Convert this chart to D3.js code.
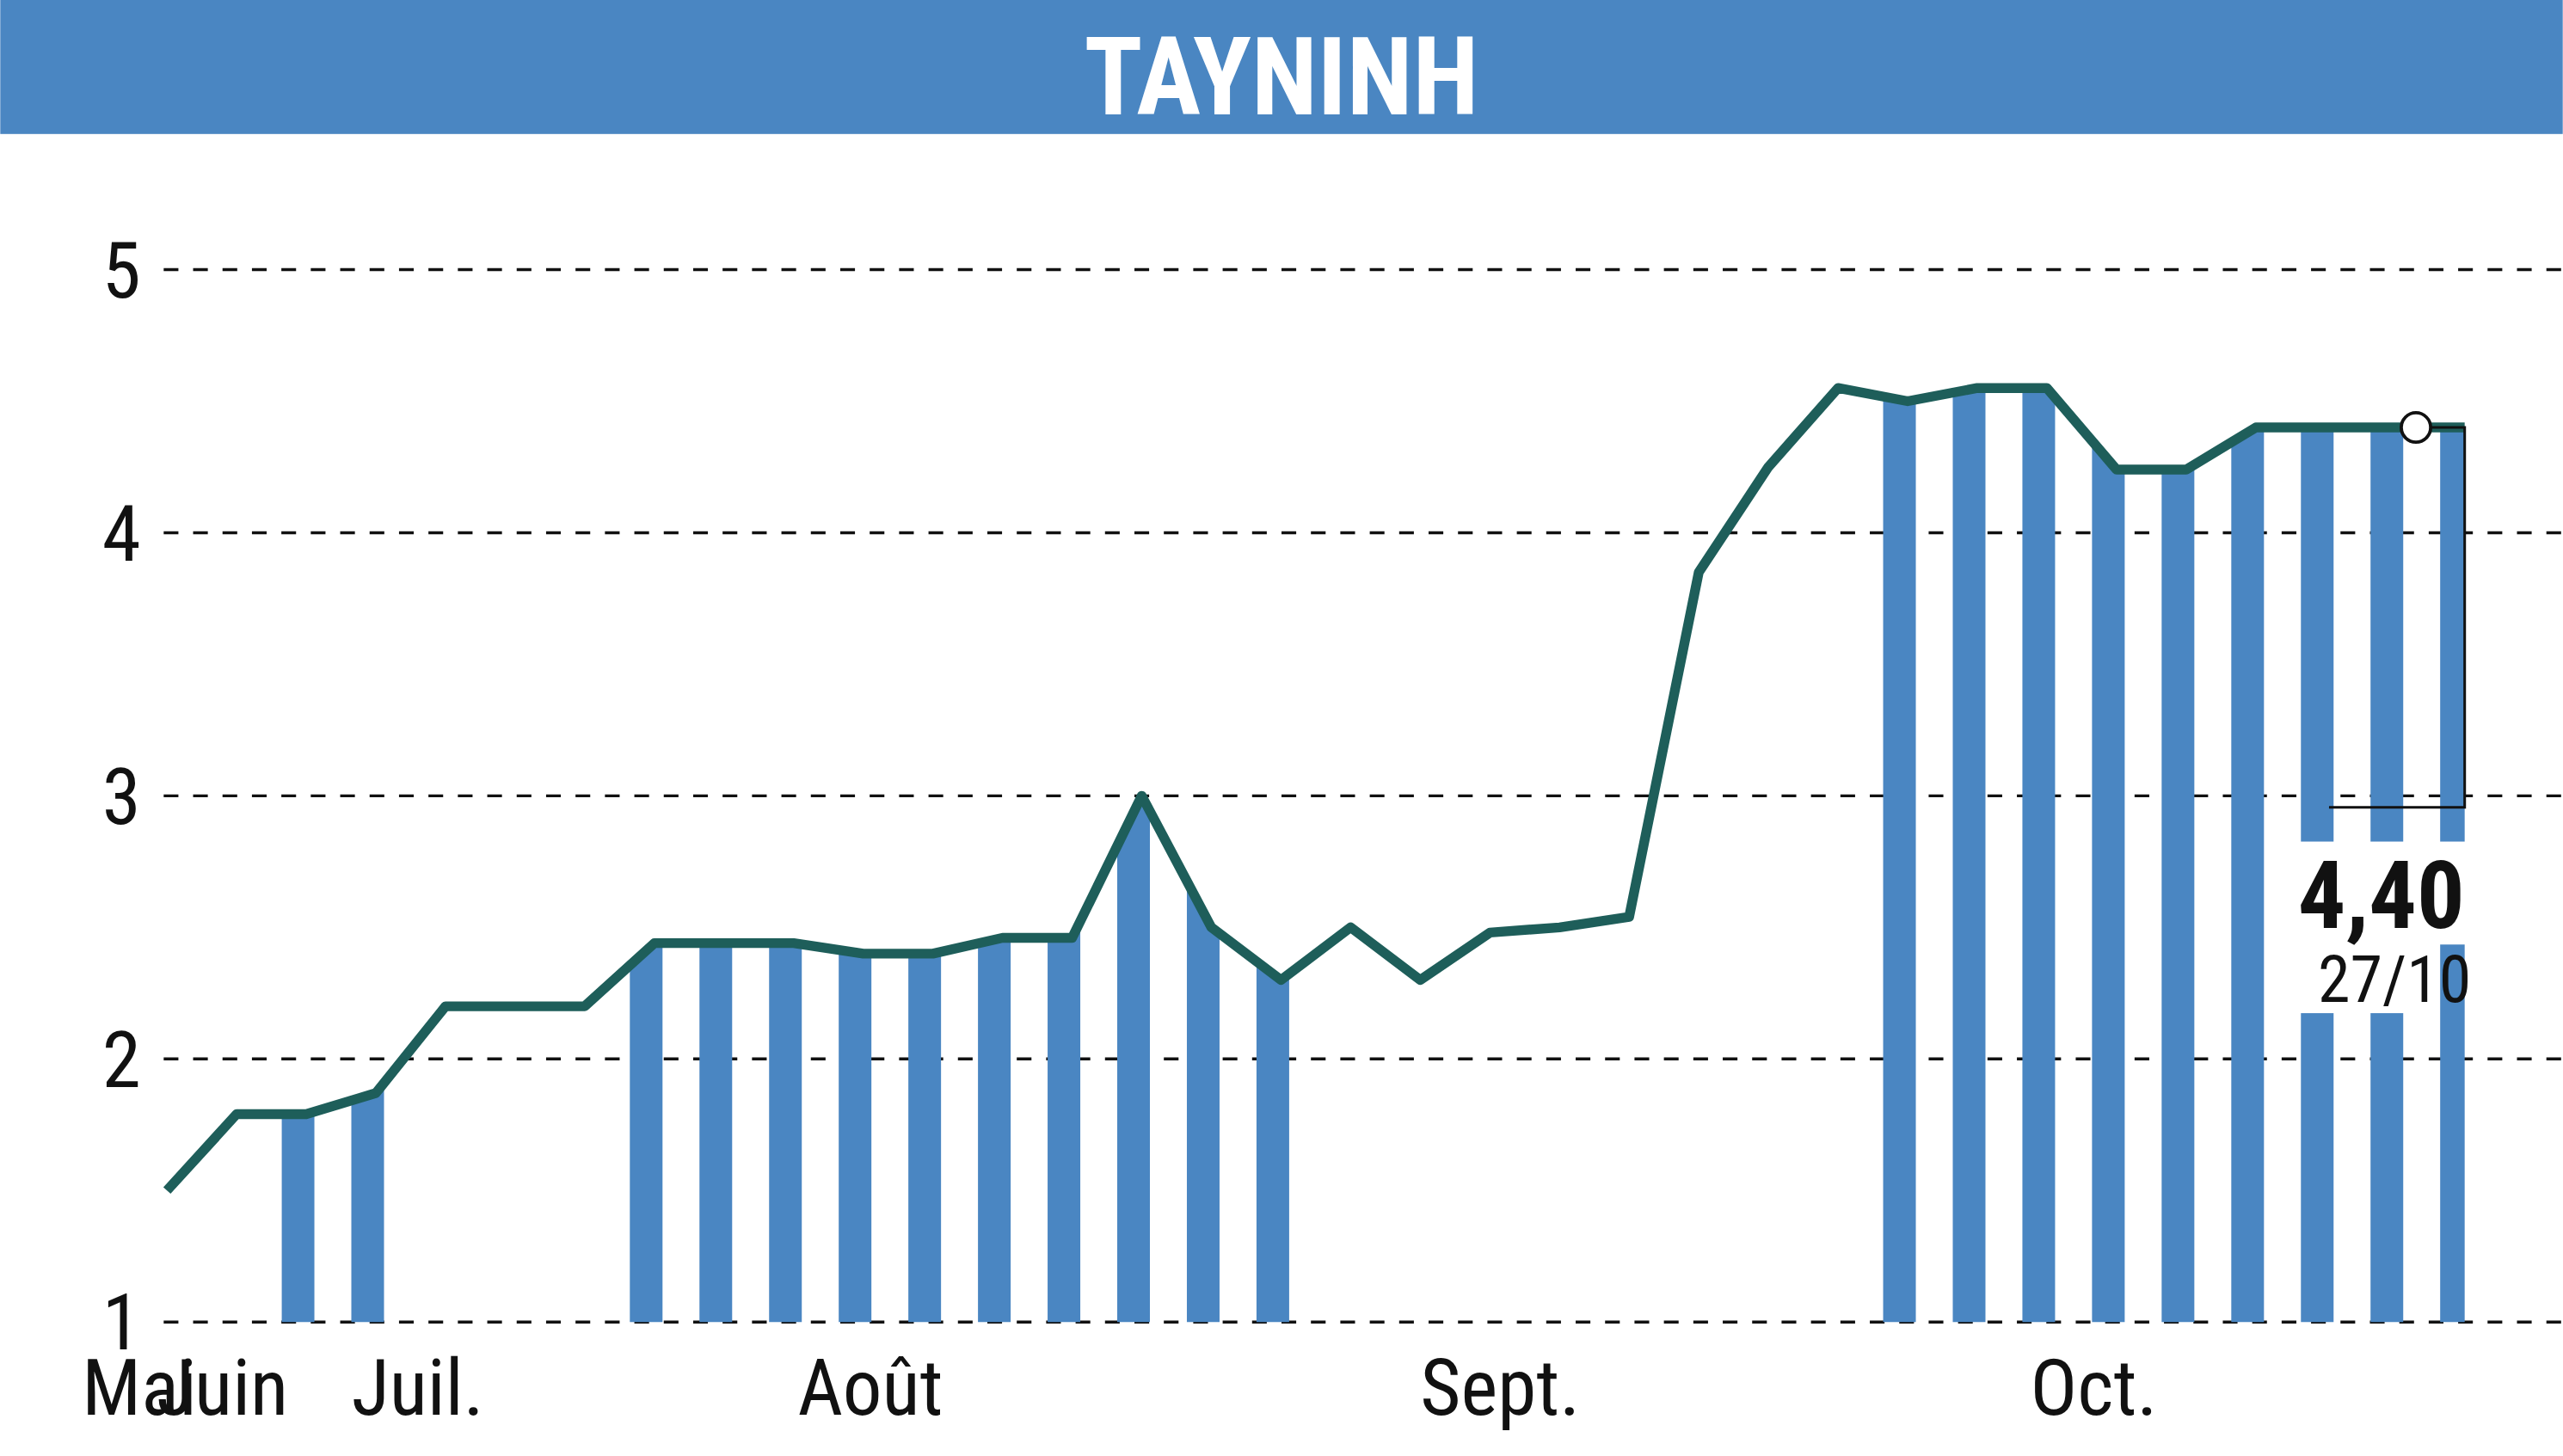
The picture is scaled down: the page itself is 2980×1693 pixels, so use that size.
<!DOCTYPE html>
<html><head><meta charset="utf-8">
<script src="https://cdn.jsdelivr.net/npm/d3@7"></script>
<style>body{margin:0;background:#fff}text{font-family:"Liberation Sans Narrow","Roboto Condensed","DejaVu Sans Condensed",sans-serif}</style>
</head><body><svg id="chart" width="2980" height="1693" viewBox="0 0 1568 891"></svg>
<script>
// closing prices, one per trading day
var prices = [1.5,1.79,1.79,1.87,2.2,2.2,2.2,2.44,2.44,2.44,2.4,2.4,2.46,2.46,3.0,2.5,2.3,2.5,2.3,2.48,2.5,2.54,3.85,4.25,4.55,4.5,4.55,4.55,4.24,4.24,4.4,4.4,4.4,4.4];
// days that get a stripe
var stripes = [2,3,7,8,9,10,11,12,13,14,15,16,25,26,27,28,29,30,31,32,33];
var yTicks = [1,2,3,4,5];
var months = [{t:"Mai",x:-1.22},{t:"Juin",x:-0.15},{t:"Juil.",x:2.65},{t:"Août",x:9.06},{t:"Sept.",x:18.0},{t:"Oct.",x:26.76}];
var lastLabel = "4,40", lastDate = "27/10";

var svg = d3.select("#chart");
var x = d3.scaleLinear().domain([0, prices.length-1]).range([102,1508]);
var y = d3.scaleLinear().domain([1,5]).range([809,165]);

// header
svg.append("rect").attr("width",1568).attr("height",82).attr("fill","#4a86c2");
svg.append("text").attr("x",784).attr("y",70).attr("text-anchor","middle")
  .attr("fill","#fff").attr("font-size",66).attr("font-weight","bold").text("TAYNINH");

// grid
svg.selectAll(".grid").data(yTicks).enter().append("line")
  .attr("x1",100).attr("x2",1568).attr("y1",y).attr("y2",y)
  .attr("stroke","#111").attr("stroke-width",1.8).attr("stroke-dasharray","9,9");
svg.selectAll(".yl").data(yTicks).enter().append("text")
  .attr("x",86).attr("y",function(d){return y(d)+17;}).attr("text-anchor","end")
  .attr("font-size",48).attr("fill","#111").text(function(d){return d;});

// striped area under line
var defs = svg.append("defs");
var cp = defs.append("clipPath").attr("id","stripes");
cp.selectAll("rect").data(stripes).enter().append("rect")
  .attr("x",function(i){return x(i)-15;}).attr("width",20).attr("y",0).attr("height",891);
var area = d3.area().x(function(d,i){return x(i);}).y0(y(1)).y1(function(d){return y(d);});
svg.append("path").datum(prices).attr("d",area).attr("fill","#4a86c2").attr("clip-path","url(#stripes)");

// label box cutting the stripes
svg.append("rect").attr("x",1395).attr("y",515).attr("width",95).attr("height",105).attr("fill","#fff");
svg.append("rect").attr("x",1490).attr("y",515).attr("width",30).attr("height",63).attr("fill","#fff");

// price line
var line = d3.line().x(function(d,i){return x(i);}).y(function(d){return y(d);});
svg.append("path").datum(prices).attr("d",line).attr("fill","none")
  .attr("stroke","#1e5e5a").attr("stroke-width",6).attr("stroke-linejoin","round");

// last value marker
var n = prices.length-1;
svg.append("path").attr("d","M"+(x(n-0.7))+","+y(prices[n])+"H"+x(n)+"V494H1425")
  .attr("fill","none").attr("stroke","#111").attr("stroke-width",1.6);
svg.append("circle").attr("cx",x(n-0.7)).attr("cy",y(prices[n])).attr("r",9)
  .attr("fill","#fff").attr("stroke","#111").attr("stroke-width",2);
svg.append("text").attr("x",1508).attr("y",568).attr("text-anchor","end")
  .attr("font-size",58).attr("font-weight","bold").attr("fill","#111").text(lastLabel);
svg.append("text").attr("x",1512).attr("y",613).attr("text-anchor","end")
  .attr("font-size",40).attr("fill","#111").text(lastDate);

// months
svg.selectAll(".mo").data(months).enter().append("text")
  .attr("x",function(d){return x(d.x);}).attr("y",866)
  .attr("font-size",48).attr("fill","#111").text(function(d){return d.t;});
</script></body></html>
